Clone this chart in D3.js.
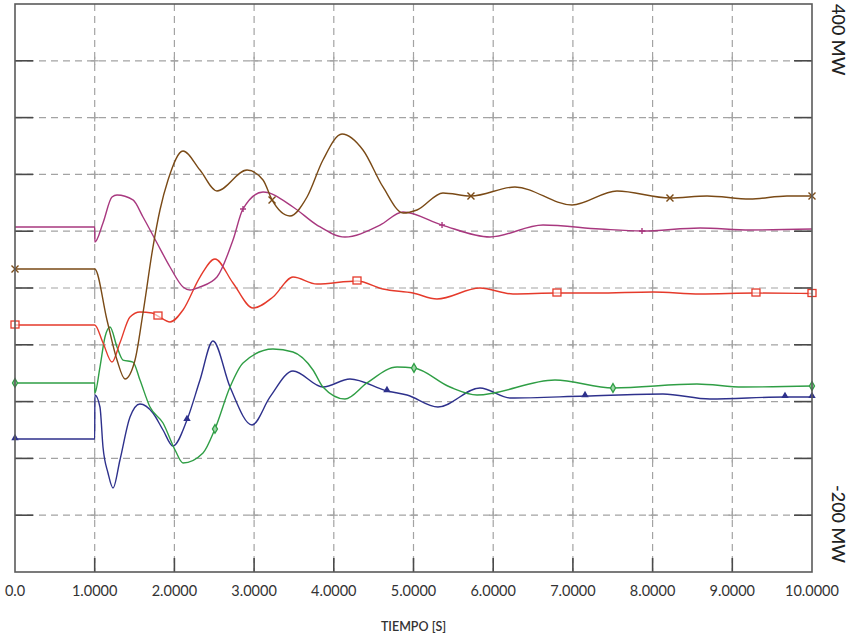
<!DOCTYPE html>
<html>
<head>
<meta charset="utf-8">
<script src="https://cdn.jsdelivr.net/npm/d3@7"></script>
<style>
  html, body { margin: 0; padding: 0; background: #ffffff; }
  svg { display: block; font-family: Lato, "Open Sans", sans-serif; }
</style>
</head>
<body>
<svg id="chart" width="858" height="637"></svg>
<script>
// Time axis (seconds) and power axis (MW)
const xTicks = [0, 1, 2, 3, 4, 5, 6, 7, 8, 9, 10];
const xTickLabels = ["0.0", "1.0000", "2.0000", "3.0000", "4.0000", "5.0000",
                     "6.0000", "7.0000", "8.0000", "9.0000", "10.0000"];
const yGrid = [-140, -80, -20, 40, 100, 160, 220, 280, 340];
const yDomain = [-200, 400];
const yLabelTop = "400 MW";
const yLabelBottom = "-200 MW";
const xTitle = "TIEMPO [S]";

// Magenta trace
const timeMagenta = [0, 1.0, 1.002, 1.104, 1.217, 1.28, 1.48, 1.606, 1.782, 1.945, 2.108, 2.196, 2.321, 2.534, 2.735, 2.861, 3.112, 3.488, 3.789, 4.14, 4.58, 4.868, 5.358, 5.96, 6.625, 7.34, 7.867, 8.595, 9.222, 10];
const valueMagenta = [164.4, 164.4, 148.6, 168.7, 196.1, 198.2, 193, 175, 147.5, 122.2, 101.1, 97.9, 101.1, 111.6, 150.7, 183.5, 201.4, 185.6, 166.5, 153.9, 166.5, 180.3, 166.5, 153.9, 166.5, 162.3, 160.2, 163.4, 161.3, 162.3];
const markTimeMagenta = [2.861, 5.358, 7.867];
const markValueMagenta = [183.5, 166.5, 160.2];

// Brown trace
const timeBrown = [0, 1.0, 1.154, 1.28, 1.38, 1.506, 1.606, 1.731, 1.819, 1.92, 2.108, 2.321, 2.534, 2.911, 3.112, 3.225, 3.45, 3.664, 3.864, 4.103, 4.366, 4.617, 4.87, 5.044, 5.37, 5.721, 6.273, 6.989, 7.553, 8.218, 8.683, 9.222, 9.686, 10];
const valueBrown = [120, 120, 66.2, 23.9, 3.9, 23.9, 73.6, 143.3, 182.4, 214.1, 244.7, 224.6, 202.5, 224.6, 214.1, 193, 176.1, 196.1, 235.2, 262.7, 245.8, 206.7, 179.2, 182.4, 200.4, 197.2, 206.7, 187.7, 202.5, 195.1, 197.2, 194, 197.2, 197.2];
const markTimeBrown = [0, 3.225, 5.721, 8.218, 10];
const markValueBrown = [120, 193, 197.2, 195.1, 197.2];

// Red trace
const timeRed = [0, 1.0, 1.104, 1.217, 1.317, 1.443, 1.568, 1.719, 1.794, 1.945, 2.108, 2.321, 2.509, 2.735, 2.986, 3.237, 3.488, 3.789, 4.291, 4.617, 4.994, 5.295, 5.834, 6.248, 6.8, 7.3, 8.005, 8.595, 9.297, 10];
const valueRed = [60.9, 60.9, 42.1, 21.8, 42.1, 69.4, 74.7, 73.6, 70.4, 64.1, 76.8, 111.6, 130.6, 105.3, 78.9, 90.5, 111.6, 104.2, 107.4, 98.9, 94.7, 88.4, 100, 93.7, 94.7, 94.7, 95.8, 93.7, 94.7, 94.2];
const markTimeRed = [0, 1.794, 4.291, 6.8, 9.297, 10];
const markValueRed = [60.9, 70.4, 107.4, 94.7, 94.7, 94.2];

// Green trace
const timeGreen = [0, 1.0, 1.002, 1.066, 1.129, 1.192, 1.28, 1.355, 1.48, 1.568, 1.694, 1.857, 2.008, 2.108, 2.359, 2.509, 2.698, 2.861, 3.237, 3.488, 3.739, 3.864, 4.14, 4.417, 4.793, 5.006, 5.458, 5.797, 6.775, 7.503, 8.557, 9.134, 10];
const valueGreen = [-0.3, -0.3, -11, 16.5, 48.2, 58.8, 37.7, 23.9, 21.8, 2.8, -25.7, -42.6, -71.1, -84.9, -74.3, -48.9, -4.6, 20.8, 35.6, 32.4, 13.4, -4.6, -17.3, -0.3, 16.5, 15.5, -4.6, -13, 2.8, -5.6, -1.4, -4.6, -3.5];
const markTimeGreen = [0, 2.509, 5.006, 7.503, 10];
const markValueGreen = [-0.3, -48.9, 15.5, -5.6, -3.5];

// Blue trace
const timeBlue = [0, 1.0, 1.002, 1.066, 1.104, 1.167, 1.23, 1.317, 1.443, 1.568, 1.731, 1.857, 1.982, 2.158, 2.321, 2.484, 2.698, 2.974, 3.2, 3.488, 3.864, 4.203, 4.667, 4.918, 5.307, 5.834, 6.211, 7.152, 8.13, 8.72, 9.661, 10];
const valueBlue = [-59.5, -59.5, -13, -25.7, -67.9, -95.4, -111.3, -81.7, -36.3, -22.5, -32, -50, -66.9, -39.4, 2.8, 44, -4.6, -44.7, -15.1, 12.3, -4.6, 3.9, -8.8, -13, -25.7, -5.6, -16.2, -14.1, -12, -17.3, -15.1, -15.1];
const markTimeBlue = [0, 2.158, 4.667, 7.152, 9.661, 10];
const markValueBlue = [-59.5, -39.4, -8.8, -14.1, -15.1, -15.1];

const traces = [
  { t: timeBlue, v: valueBlue, mt: markTimeBlue, mv: markValueBlue, color: "#2e318c", mark: "triangle" },
  { t: timeGreen, v: valueGreen, mt: markTimeGreen, mv: markValueGreen, color: "#2f9e45", mark: "diamond" },
  { t: timeRed, v: valueRed, mt: markTimeRed, mv: markValueRed, color: "#e53a2b", mark: "square" },
  { t: timeMagenta, v: valueMagenta, mt: markTimeMagenta, mv: markValueMagenta, color: "#a8387f", mark: "plus" },
  { t: timeBrown, v: valueBrown, mt: markTimeBrown, mv: markValueBrown, color: "#7a4a16", mark: "cross" }
];

const plot = { left: 15, top: 4, right: 812, bottom: 572 };

const svg = d3.select("#chart");
const x = d3.scaleLinear().domain([0, 10]).range([plot.left, plot.right]);
const y = d3.scaleLinear().domain(yDomain).range([plot.bottom, plot.top]);

// Dashed grid
const grid = svg.append("g").attr("stroke", "#a3a3a3").attr("stroke-width", 1.2)
  .attr("stroke-dasharray", "7,5").attr("fill", "none");
xTicks.slice(1, -1).forEach(t => {
  grid.append("line").attr("x1", x(t)).attr("x2", x(t))
    .attr("y1", plot.top).attr("y2", plot.bottom);
});
yGrid.forEach(v => {
  grid.append("line").attr("x1", plot.left).attr("x2", plot.right)
    .attr("y1", y(v)).attr("y2", y(v));
});
// Small crosses where the grid lines meet
const crosses = svg.append("g").attr("stroke", "#a3a3a3").attr("stroke-width", 1.2);
xTicks.slice(1, -1).forEach(t => {
  yGrid.forEach(v => {
    crosses.append("line").attr("x1", x(t) - 4).attr("x2", x(t) + 4).attr("y1", y(v)).attr("y2", y(v));
    crosses.append("line").attr("x1", x(t)).attr("x2", x(t)).attr("y1", y(v) - 4).attr("y2", y(v) + 4);
  });
});

// Solid inner ticks on the frame
const ticks = svg.append("g").attr("stroke", "#4a4a4a").attr("stroke-width", 1.6);
yGrid.forEach(v => {
  ticks.append("line").attr("x1", plot.left).attr("x2", plot.left + 18).attr("y1", y(v)).attr("y2", y(v));
  ticks.append("line").attr("x1", plot.right - 18).attr("x2", plot.right).attr("y1", y(v)).attr("y2", y(v));
});
xTicks.slice(1, -1).forEach(t => {
  ticks.append("line").attr("x1", x(t)).attr("x2", x(t)).attr("y1", plot.bottom).attr("y2", plot.bottom - 14);
});

// Traces
const line = d3.line().x(d => x(d[0])).y(d => y(d[1])).curve(d3.curveMonotoneX);
traces.forEach(tr => {
  const pts = tr.t.map((t, i) => [t, tr.v[i]]);
  svg.append("path").datum(pts).attr("d", line)
    .attr("fill", "none").attr("stroke", tr.color).attr("stroke-width", 1.4);
});

// Markers
traces.forEach(tr => {
  const g = svg.append("g");
  tr.mt.forEach((t, i) => {
    const cx = x(t), cy = y(tr.mv[i]);
    if (tr.mark === "square") {
      g.append("rect").attr("x", cx - 4).attr("y", cy - 4).attr("width", 8).attr("height", 7)
        .attr("fill", "#ffffff").attr("fill-opacity", 0.6).attr("stroke", tr.color).attr("stroke-width", 1.3);
    } else if (tr.mark === "triangle") {
      g.append("path").attr("d", d3.symbol().type(d3.symbolTriangle).size(24)())
        .attr("transform", `translate(${cx},${cy - 1})`).attr("fill", tr.color);
    } else if (tr.mark === "diamond") {
      g.append("path").attr("d", d3.symbol().type(d3.symbolDiamond).size(22)())
        .attr("transform", `translate(${cx},${cy})`).attr("fill", "#9fd6a8")
        .attr("stroke", tr.color).attr("stroke-width", 1.3);
    } else if (tr.mark === "cross") {
      g.append("path").attr("d", `M${cx - 3.5},${cy - 3.5}L${cx + 3.5},${cy + 3.5}M${cx - 3.5},${cy + 3.5}L${cx + 3.5},${cy - 3.5}`)
        .attr("stroke", tr.color).attr("stroke-width", 1.4);
    } else if (tr.mark === "plus") {
      g.append("path").attr("d", `M${cx - 3},${cy}L${cx + 3},${cy}M${cx},${cy - 3}L${cx},${cy + 3}`)
        .attr("stroke", tr.color).attr("stroke-width", 1.4);
    }
  });
});

// Frame
svg.append("rect").attr("x", plot.left).attr("y", plot.top)
  .attr("width", plot.right - plot.left).attr("height", plot.bottom - plot.top)
  .attr("fill", "none").attr("stroke", "#5a5a5a").attr("stroke-width", 1.6);

// Time labels
svg.append("g").selectAll("text").data(xTicks).join("text")
  .attr("x", d => x(d)).attr("y", 596).attr("text-anchor", "middle")
  .attr("font-size", 14.5).attr("fill", "#333").text((d, i) => xTickLabels[i]);

svg.append("text").attr("x", (plot.left + plot.right) / 2).attr("y", 631)
  .attr("text-anchor", "middle").attr("font-size", 12.5).attr("font-weight", 600)
  .attr("fill", "#333").text(xTitle);

// Vertical range labels on the right
svg.append("text").attr("transform", `translate(832,${y(400)}) rotate(90)`)
  .attr("font-size", 18).attr("font-weight", 500).attr("fill", "#222").text(yLabelTop);
svg.append("text").attr("transform", `translate(832,${y(-200) - 87}) rotate(90)`)
  .attr("font-size", 18).attr("font-weight", 500).attr("fill", "#222").text(yLabelBottom);
</script>
</body>
</html>
